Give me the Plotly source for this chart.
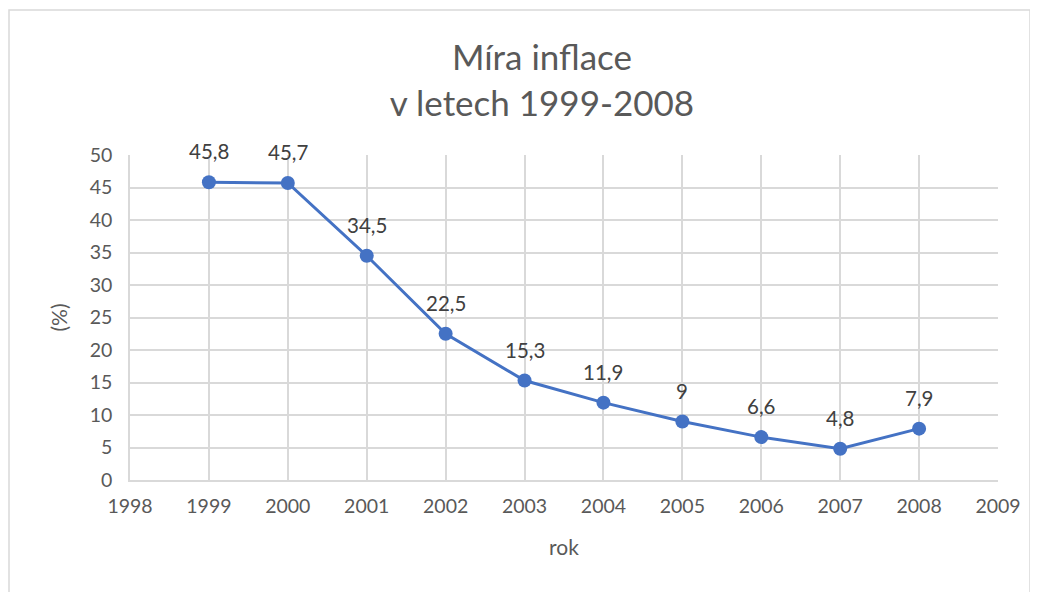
import plotly.graph_objects as go

years = [1999, 2000, 2001, 2002, 2003, 2004, 2005, 2006, 2007, 2008]
inflation = [45.8, 45.7, 34.5, 22.5, 15.3, 11.9, 9.0, 6.6, 4.8, 7.9]
labels = ["45,8", "45,7", "34,5", "22,5", "15,3", "11,9", "9", "6,6", "4,8", "7,9"]

FONT = "Lato, 'Open Sans', sans-serif"
TXT = "#595959"
GRID = "#D9D9D9"

fig = go.Figure()
fig.add_trace(go.Scatter(
    x=years, y=inflation, mode="lines+markers",
    line=dict(color="#4472C4", width=3),
    marker=dict(color="#4472C4", size=14),
    cliponaxis=False, showlegend=False,
))
for xv, yv, lab in zip(years, inflation, labels):
    fig.add_annotation(x=xv, y=yv, text=lab, showarrow=False,
                       yanchor="middle", yshift=31,
                       font=dict(family=FONT, size=20.5, color="#404040"))

W, H = 1038, 592
OFF = 8  # page body margin
L, R, T, B = 130 - OFF, 998 - OFF, 155 - OFF, 480 - OFF
pw, ph = R - L, B - T

def px(x):
    return (x - OFF - L) / pw

def py(y):
    return (B - (y - OFF)) / ph

fig.add_shape(type="rect", xref="paper", yref="paper",
              x0=px(9), x1=px(1030), y0=py(620), y1=py(10),
              line=dict(color=GRID, width=1.5), layer="below")

fig.update_layout(
    width=W, height=H,
    margin=dict(l=L, r=W - R, t=T, b=H - B),
    paper_bgcolor="white", plot_bgcolor="white",
    font=dict(family=FONT, color=TXT),
    title=dict(text="Míra inflace<br>v letech 1999-2008",
               x=(542 - OFF) / W, xanchor="center",
               y=1 - (70 - OFF) / H, yanchor="middle",
               font=dict(family=FONT, size=35, color=TXT)),
)
fig.update_xaxes(range=[1998, 2009], dtick=1, tick0=1998,
                 showgrid=True, gridcolor=GRID, gridwidth=1.5,
                 showline=True, linecolor=GRID, linewidth=1.5, mirror=False,
                 zeroline=False, ticks="", ticklabelstandoff=8,
                 tickfont=dict(family=FONT, size=19.5, color=TXT),
                 title=dict(text="rok", font=dict(family=FONT, size=21, color=TXT), standoff=24))
fig.update_yaxes(range=[0, 50], dtick=5,
                 showgrid=True, gridcolor=GRID, gridwidth=1.5,
                 showline=True, linecolor=GRID, linewidth=1.5,
                 zeroline=False, ticks="", ticklabelstandoff=12,
                 tickfont=dict(family=FONT, size=19.5, color=TXT),
                 title=dict(text="(%)", font=dict(family=FONT, size=21, color=TXT), standoff=16))

fig.write_html("out.html")
